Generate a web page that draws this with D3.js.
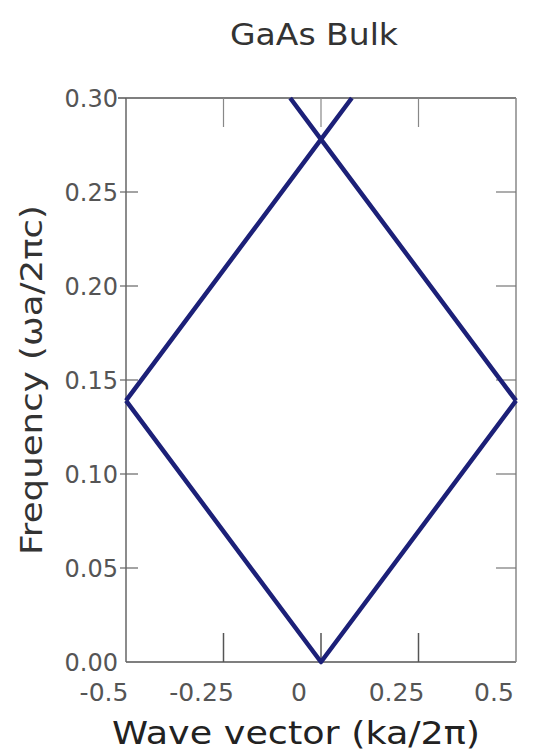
<!DOCTYPE html>
<html>
<head>
<meta charset="utf-8">
<script src="https://cdn.jsdelivr.net/npm/d3@7"></script>
<style>
  html, body { margin: 0; padding: 0; background: #fff; }
  svg { display: block; }
  text { font-family: "DejaVu Sans", "Liberation Sans", sans-serif; }
</style>
</head>
<body>
<svg id="chart" width="533" height="751"></svg>
<script>
// Folded photon bands of bulk GaAs in the reduced zone
const lowerBand  = { k: [-0.5, 0, 0.5],      f: [0.139, 0, 0.139] };
const middleBand = { k: [-0.5, 0, 0.5],      f: [0.139, 0.278, 0.139] };
const upperBand  = { k: [-0.079, 0, 0.079],  f: [0.30, 0.278, 0.30] };
const bands = [lowerBand, middleBand, upperBand];

const xTicks = [-0.5, -0.25, 0, 0.25, 0.5];
const xTickLabels = ["-0.5", "-0.25", "0", "0.25", "0.5"];
const yTicks = [0, 0.05, 0.10, 0.15, 0.20, 0.25, 0.30];
const yTickLabels = ["0.00", "0.05", "0.10", "0.15", "0.20", "0.25", "0.30"];

const svg = d3.select("#chart");
const x = d3.scaleLinear().domain([-0.5, 0.5]).range([126, 516]);
const y = d3.scaleLinear().domain([0, 0.30]).range([662, 98]);

// frame
const frame = svg.append("g").attr("fill", "none");
frame.append("line").attr("x1", x(-0.5)).attr("x2", x(0.5)).attr("y1", y(0.30)).attr("y2", y(0.30))
  .attr("stroke", "#555").attr("stroke-width", 1.5);
frame.append("line").attr("x1", x(-0.5)).attr("x2", x(0.5)).attr("y1", y(0)).attr("y2", y(0))
  .attr("stroke", "#555").attr("stroke-width", 1.5);
frame.append("line").attr("x1", x(-0.5)).attr("x2", x(-0.5)).attr("y1", y(0)).attr("y2", y(0.30))
  .attr("stroke", "#666").attr("stroke-width", 1.5);
frame.append("line").attr("x1", x(0.5)).attr("x2", x(0.5)).attr("y1", y(0)).attr("y2", y(0.30))
  .attr("stroke", "#888").attr("stroke-width", 1.5);

// x ticks, pointing inward from top and bottom
const inner = xTicks.slice(1, -1);
svg.append("g").selectAll("line.xb").data(inner).join("line")
  .attr("x1", d => x(d)).attr("x2", d => x(d))
  .attr("y1", y(0)).attr("y2", y(0) - 29)
  .attr("stroke", "#555").attr("stroke-width", 1.5);
svg.append("g").selectAll("line.xt").data(inner).join("line")
  .attr("x1", d => x(d)).attr("x2", d => x(d))
  .attr("y1", y(0.30)).attr("y2", y(0.30) + 29)
  .attr("stroke", "#888").attr("stroke-width", 1.2);

// y ticks on both sides
svg.append("g").selectAll("line").data(yTicks.slice(1, -1)).join("line")
  .attr("x1", x(-0.5) - 6).attr("x2", x(-0.5) + 12)
  .attr("y1", d => y(d)).attr("y2", d => y(d))
  .attr("stroke", "#666").attr("stroke-width", 1.2);
svg.append("line").attr("x1", x(-0.5) - 8).attr("x2", x(-0.5))
  .attr("y1", y(0.30)).attr("y2", y(0.30)).attr("stroke", "#555").attr("stroke-width", 1.5);
svg.append("g").selectAll("line").data(yTicks.slice(1, -1)).join("line")
  .attr("x1", x(0.5) - 20).attr("x2", x(0.5))
  .attr("y1", d => y(d)).attr("y2", d => y(d))
  .attr("stroke", "#777").attr("stroke-width", 1.2);

// tick labels
svg.append("g").selectAll("text").data(yTicks).join("text")
  .attr("x", x(-0.5) - 8).attr("y", d => y(d))
  .attr("dy", "0.36em").attr("text-anchor", "end")
  .attr("font-size", 24).attr("fill", "#555")
  .text((d, i) => yTickLabels[i]);
svg.append("g").selectAll("text").data(xTicks).join("text")
  .attr("x", d => x(d) - 22).attr("y", 701)
  .attr("text-anchor", "middle")
  .attr("font-size", 25).attr("fill", "#555")
  .text((d, i) => xTickLabels[i]);

// bands
const line = d3.line().x(d => x(d[0])).y(d => y(d[1]));
svg.append("g").selectAll("path").data(bands).join("path")
  .attr("d", b => line(d3.zip(b.k, b.f)))
  .attr("fill", "none").attr("stroke", "#1c2078")
  .attr("stroke-width", 4.5).attr("stroke-linejoin", "round");

// titles
svg.append("text").attr("x", 314).attr("y", 45).attr("text-anchor", "middle")
  .attr("font-size", 31).attr("fill", "#333")
  .attr("textLength", 168).attr("lengthAdjust", "spacingAndGlyphs").text("GaAs Bulk");
svg.append("text").attr("x", 296).attr("y", 744).attr("text-anchor", "middle")
  .attr("font-size", 32).attr("fill", "#222")
  .attr("textLength", 368).attr("lengthAdjust", "spacingAndGlyphs").text("Wave vector (ka/2π)");
svg.append("text")
  .attr("transform", "translate(42,380) rotate(-90)")
  .attr("text-anchor", "middle")
  .attr("font-size", 30).attr("fill", "#333")
  .attr("textLength", 350).attr("lengthAdjust", "spacingAndGlyphs").text("Frequency (ωa/2πc)");
</script>
</body>
</html>
